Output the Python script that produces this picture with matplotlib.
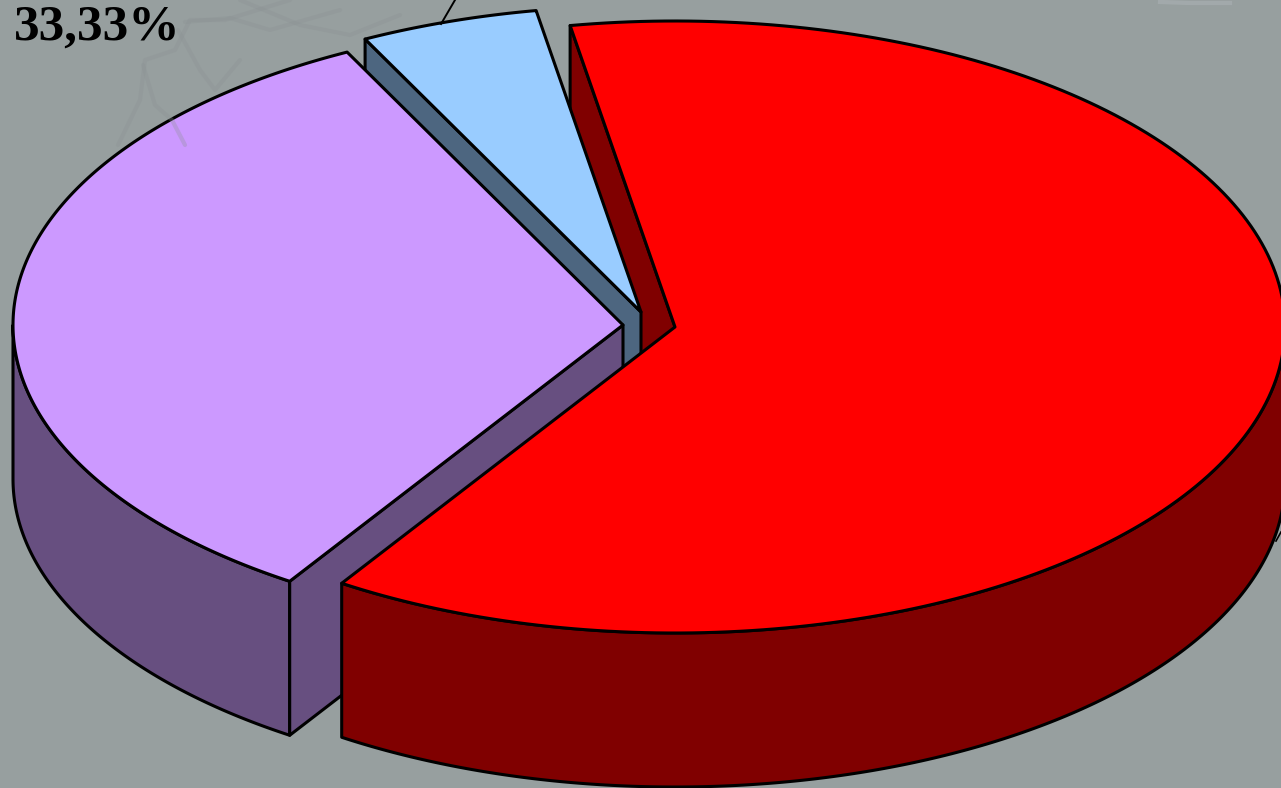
import numpy as np
import matplotlib
matplotlib.use("Agg")
import matplotlib.pyplot as plt

# slice shares in percent, clockwise from the start angle
slice_names = ["red", "purple", "blue"]
slice_values = [61.95, 33.33, 4.72]
label_text = "33,33%"

top_colors = {"red": "#FF0000", "purple": "#CC99FF", "blue": "#99CCFF"}
wall_colors = {"red": "#800000", "purple": "#674F80", "blue": "#4D6680"}
# where each exploded slice has its tip, in pixels
centers = {"red": (675, 327), "purple": (623, 325), "blue": (641, 312)}

RX, RY = 610, 306
DEPTH = 154
START = 99.9
BG = "#979F9F"
LW = 2.2


def slice_angles():
    angles = {}
    a = START
    for name, v in zip(slice_names, slice_values):
        angles[name] = (a, a - v * 3.6)
        a -= v * 3.6
    return angles


def rim(name, a0, a1, drop=0):
    cx, cy = centers[name]
    t = np.radians(np.linspace(a0, a1, 200))
    return cx + RX * np.cos(t), cy - RY * np.sin(t) + drop


def draw_poly(ax, x, y, color):
    ax.fill(x, y, facecolor=color, edgecolor="black", linewidth=LW, joinstyle="round")


def draw_top(ax, name, a0, a1):
    cx, cy = centers[name]
    x, y = rim(name, a0, a1)
    draw_poly(ax, np.r_[cx, x], np.r_[cy, y], top_colors[name])


def draw_edge_wall(ax, name, angle):
    # flat cut face of a slice, going from the tip to the rim
    cx, cy = centers[name]
    x, y = rim(name, angle, angle + 1e-6)
    px, py = x[0], y[0]
    draw_poly(ax, [cx, px, px, cx], [cy, py, py + DEPTH, cy + DEPTH], wall_colors[name])


def draw_outer_wall(ax, name, a0, a1):
    # curved outside face, only the front part can be seen
    x, y = rim(name, a0, a1)
    draw_poly(ax, np.r_[x, x[::-1]], np.r_[y, y[::-1] + DEPTH], wall_colors[name])


fig = plt.figure(figsize=(12.81, 7.88), dpi=100, facecolor=BG)
ax = fig.add_axes([0, 0, 1, 1])
ax.set_xlim(0, 1281)
ax.set_ylim(788, 0)
ax.axis("off")

# faint branches of the slide background
branches = [
    ([118, 140, 145, 175, 190, 225, 290], [145, 100, 60, 50, 20, 20, 0]),
    ([143, 155, 172, 185], [65, 105, 120, 145]),
    ([178, 200, 215, 240], [30, 70, 90, 60]),
    ([185, 230, 270, 340], [22, 18, 30, 10]),
    ([240, 300, 350, 400], [0, 25, 35, 15]),
]
for bx, by in branches:
    ax.plot(bx, by, color="#8A9193", lw=3, alpha=0.3, solid_capstyle="round")
ax.plot([1160, 1190, 1230], [2, 3, 3], color="#ABB1B4", lw=3, alpha=0.6)

angles = slice_angles()
red0, red1 = angles["red"]
pur0, pur1 = angles["purple"]
blu0, blu1 = angles["blue"]

# painter's order, the red top has to end up over everything
draw_edge_wall(ax, "red", red0)
draw_edge_wall(ax, "blue", blu0)
draw_top(ax, "blue", blu0, blu1)
draw_outer_wall(ax, "purple", -180, pur0)
draw_edge_wall(ax, "purple", pur0)
draw_top(ax, "purple", pur0, pur1)
draw_outer_wall(ax, "red", red1, 0)
draw_top(ax, "red", red0, red1)

# leader lines cut off by the crop
ax.plot([441, 455], [24, 0], color="black", lw=1.4)
ax.plot([1276, 1281], [541, 532], color="black", lw=1.2)

ax.text(14, 40, label_text, family="Liberation Serif", weight="bold",
        fontsize=37, color="black", ha="left", va="baseline")

fig.savefig("out.png", dpi=100, facecolor=BG)
